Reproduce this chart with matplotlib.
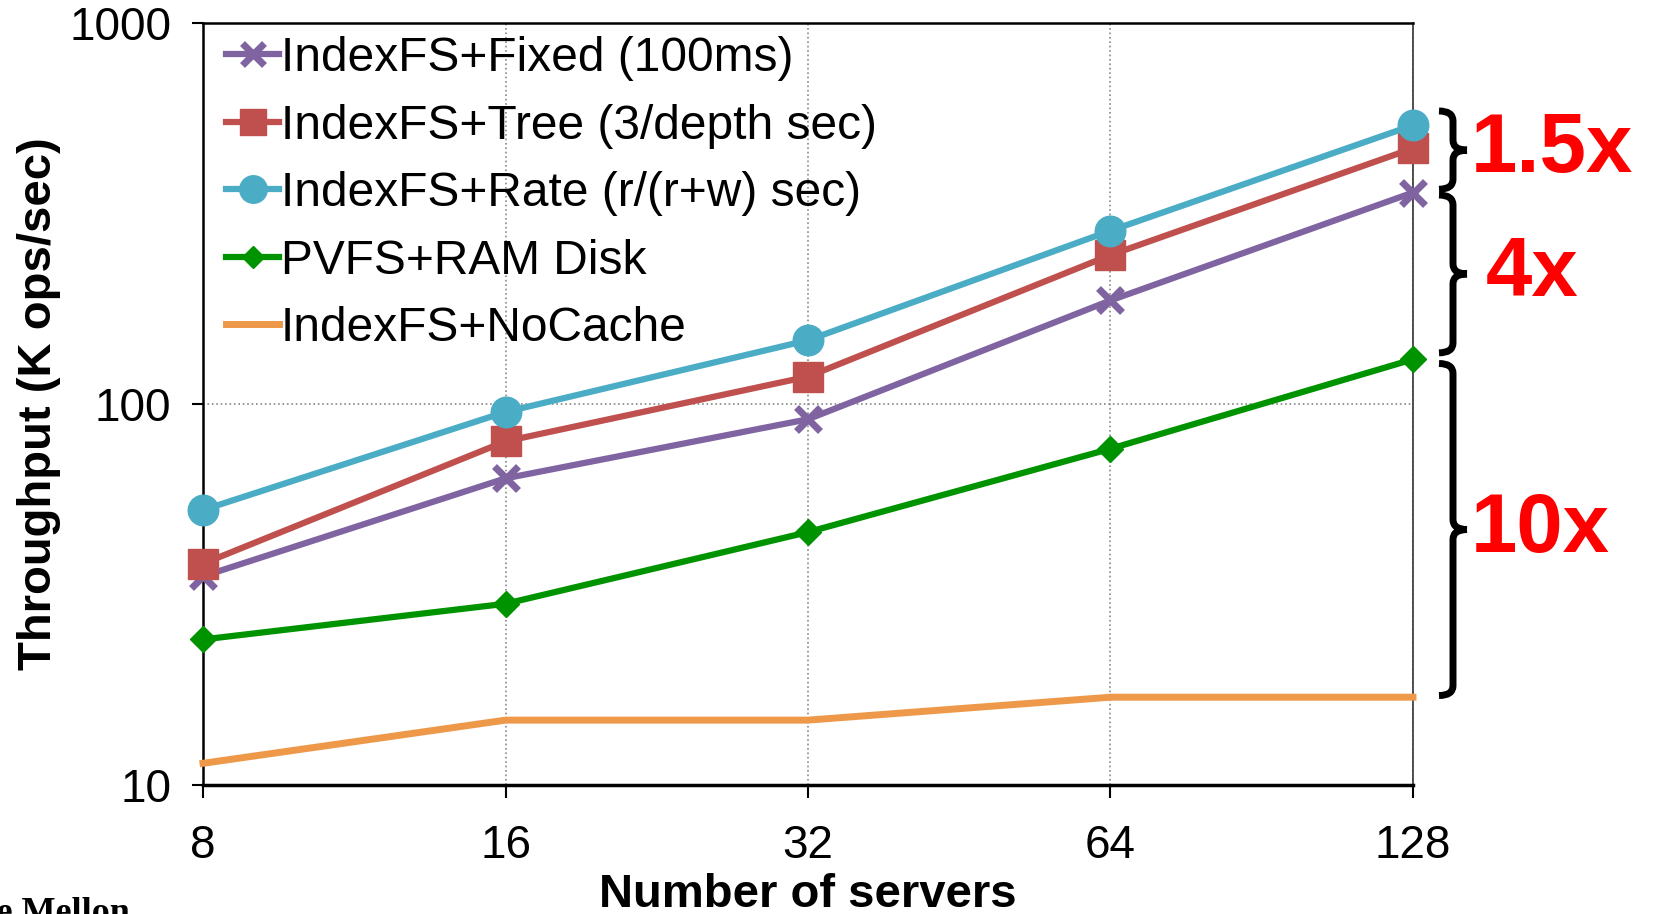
import matplotlib
matplotlib.use("Agg")
import matplotlib.pyplot as plt
from matplotlib.path import Path
from matplotlib.patches import PathPatch
from matplotlib.ticker import FixedLocator, NullLocator

plt.rcParams['font.family'] = ['Liberation Sans', 'DejaVu Sans']

# data (K ops/sec)
servers = [8, 16, 32, 64, 128]
fixed_100ms = [35.3, 63.8, 91.2, 187, 359]
tree_depth = [38.1, 79.8, 118, 246, 469]
rate_rw = [52.7, 95.3, 147, 285, 539]
pvfs_ramdisk = [24.1, 29.9, 46.1, 76.3, 131]
nocache = [11.4, 14.8, 14.8, 17.0, 17.0]

y_ticks = [10, 100, 1000]
brace_labels = ["1.5x", "4x", "10x"]

fig = plt.figure(figsize=(16.53, 9.14), dpi=100)
W, H = 1653, 914
ax = fig.add_axes([203 / W, 1 - 785 / H, (1413 - 203) / W, (785 - 23) / H])

ax.plot(servers, fixed_100ms, color='#8064A2', lw=4.5, marker='x', ms=17, mew=5,
        label='IndexFS+Fixed (100ms)', clip_on=False, zorder=3)
ax.plot(servers, tree_depth, color='#C0504D', lw=4.5, marker='s', ms=21,
        label='IndexFS+Tree (3/depth sec)', clip_on=False, zorder=4)
ax.plot(servers, rate_rw, color='#4BACC6', lw=4.5, marker='o', ms=22,
        label='IndexFS+Rate (r/(r+w) sec)', clip_on=False, zorder=5)
ax.plot(servers, pvfs_ramdisk, color='#009300', lw=4.5, marker='D', ms=13,
        label='PVFS+RAM Disk', clip_on=False, zorder=3)
ax.plot(servers, nocache, color='#EE9849', lw=5, solid_capstyle='projecting',
        label='IndexFS+NoCache', clip_on=False, zorder=3)

ax.set_xscale('log', base=2)
ax.set_yscale('log')
ax.set_xlim(8, 128)
ax.set_ylim(10, 1000)
ax.xaxis.set_major_locator(FixedLocator(servers))
ax.set_xticklabels([str(s) for s in servers])
ax.xaxis.set_minor_locator(NullLocator())
ax.yaxis.set_major_locator(FixedLocator(y_ticks))
ax.set_yticklabels([str(v) for v in y_ticks])
ax.yaxis.set_minor_locator(NullLocator())

ax.tick_params(axis='x', direction='out', length=9, width=1.5, labelsize=33, pad=19)
ax.tick_params(axis='y', direction='out', length=8, width=1.5, labelsize=33, pad=15)
ax.grid(True, which='major', linestyle=':', color='#888888', lw=1.2)

for side in ['left', 'top']:
    ax.spines[side].set_linewidth(1.8)
ax.spines['bottom'].set_linewidth(2.5)
ax.spines['right'].set_linewidth(1.2)
ax.spines['right'].set_color('#333333')

ax.set_ylabel('Throughput (K ops/sec)', fontsize=34, fontweight='bold', labelpad=6)
ax.set_xlabel('Number of servers', fontsize=34, fontweight='bold', labelpad=4)

ax.legend(loc='upper left', bbox_to_anchor=(0.003, 1.008), frameon=False, fontsize=34.5,
          handlelength=1.12, handletextpad=0.03, labelspacing=0.47, borderaxespad=0,
          borderpad=0.4, markerscale=0.9)

fig.text(130 / W, 1 - 897 / H, 'Carnegie Mellon', ha='right', va='top', fontsize=26,
         fontweight='bold', family='Liberation Serif')

# curly braces at the right edge, spanning the gaps between series at 128 servers
spans = [
    (rate_rw[-1] * 1.09, fixed_100ms[-1] * 1.02),
    (fixed_100ms[-1] * 0.985, pvfs_ramdisk[-1] * 1.04),
    (pvfs_ramdisk[-1] * 0.975, nocache[-1] * 1.01),
]
text_dx = [58, 73, 58]


def brace(y_top, y_bot, x_right):
    x_tip, x_stem, x_nub = x_right + 26, x_right + 40, x_right + 54
    y_mid = (y_top + y_bot) / 2
    r = 10
    verts = [(x_tip, y_top), (x_stem, y_top), (x_stem, y_top - r),
             (x_stem, y_mid + r), (x_stem, y_mid), (x_nub, y_mid),
             (x_nub, y_mid), (x_stem, y_mid), (x_stem, y_mid - r),
             (x_stem, y_bot + r), (x_stem, y_bot), (x_tip, y_bot)]
    codes = [Path.MOVETO, Path.CURVE3, Path.CURVE3,
             Path.LINETO, Path.CURVE3, Path.CURVE3,
             Path.MOVETO, Path.CURVE3, Path.CURVE3,
             Path.LINETO, Path.CURVE3, Path.CURVE3]
    return PathPatch(Path(verts, codes), fill=False, lw=5, color='black',
                     capstyle='butt', joinstyle='round', transform=None)


x_right = ax.transAxes.transform((1, 0))[0]
for (top, bot), lab, dx in zip(spans, brace_labels, text_dx):
    y_top = ax.transData.transform((128, top))[1]
    y_bot = ax.transData.transform((128, bot))[1]
    fig.patches.append(brace(y_top, y_bot, x_right))
    fig.text(x_right + dx, (y_top + y_bot) / 2, lab, transform=None, color='red',
             fontsize=60, fontweight='bold', ha='left', va='center')

fig.savefig('out.png', dpi=100)
